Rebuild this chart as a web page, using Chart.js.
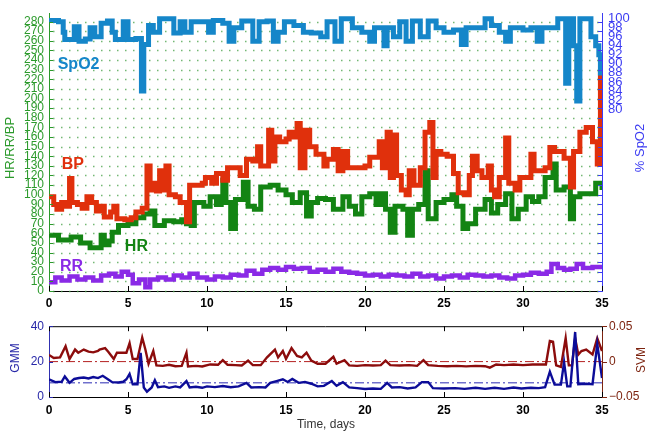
<!DOCTYPE html>
<html>
<head>
<meta charset="utf-8">
<script src="https://cdn.jsdelivr.net/npm/chart.js@4/dist/chart.umd.min.js"></script>
<style>
  body { margin: 0; background: #fff; }
  .panel { position: absolute; left: 0; width: 657px; }
</style>
</head>
<body>
<div class="panel" style="top:0;height:312px"><canvas id="top" width="657" height="312"></canvas></div>
<div class="panel" style="top:312px;height:123px"><canvas id="bottom" width="657" height="123"></canvas></div>
<script>
// values (days / value pairs)
const spo2Days = [0,0.6,0.9,1.0,1.6,1.9,2.3,2.6,2.9,3.3,3.7,4.0,4.2,4.7,5.0,5.5,5.85,6.0,6.3,6.6,7.0,7.6,7.9,8.3,8.6,9.0,9.8,10.1,10.4,11.0,11.4,11.7,12.2,12.9,13.3,13.8,14.2,14.5,14.9,15.5,16.1,16.6,17.2,17.6,18.1,18.5,19.2,19.8,20.3,20.6,21.2,21.4,21.8,22.2,22.6,23.0,23.5,24.0,24.5,25.0,25.6,26.1,26.4,27.0,27.6,28.0,28.5,28.9,29.2,30.0,30.5,30.9,31.2,31.8,32.2,32.7,32.9,33.2,33.4,33.6,34.1,34.3,34.6,34.8,34.9,35];
const spo2Vals = [99.6,99.3,97,95.4,98.2,95,95.5,98,96,99,99.5,97,95.4,99.3,95.4,95.6,84,94.3,98.5,97,100,100,96.8,99.3,97,99.3,99.3,97,99.6,99,95,98,99.5,95,99.3,99.5,95,97,99.3,98.5,97,96.8,96,99.3,95,100,98,97,95,98,94,98,96,99.3,95,99.5,96,99.5,98,97,97.5,94.3,98,98,100,98.5,97,95,98,97.5,98,95,98,98,100,85.7,100,94,81.8,100,100,96,94,92,88,88];

const bpDays = [0,0.3,0.5,0.8,1.1,1.3,1.45,1.8,2.1,2.4,2.7,3.0,3.3,3.5,3.9,4.1,4.3,4.8,5.2,5.5,5.9,6.2,6.4,6.6,6.8,7.0,7.2,7.4,7.6,8.0,8.3,8.7,8.9,9.3,9.7,9.9,10.3,10.6,11.0,11.3,11.7,12.1,12.5,12.9,13.2,13.4,13.9,14.1,14.3,14.6,15.0,15.2,15.5,15.7,15.9,16.2,16.5,16.9,17.4,17.6,18.0,18.3,18.6,18.9,19.4,20.0,20.3,20.9,21.1,21.4,21.6,21.8,22.0,22.3,22.6,22.8,23.1,23.5,23.8,24.1,24.3,24.5,24.8,25.2,25.6,25.9,26.3,26.6,26.8,27.1,27.4,27.8,28.0,28.2,28.5,28.9,29.1,29.5,29.8,30.5,30.7,31.4,31.7,32.0,32.6,33.0,33.2,33.6,34.0,34.4,34.7,34.9,35];
const bpVals = [98,90,85,92,88,117,92,90,86,98,92,83,88,77,82,88,75,74,76,82,86,130,105,112,104,125,105,130,100,98,92,72,110,110,112,118,112,122,115,128,128,120,137,135,150,130,167,135,160,155,158,165,160,174,128,167,150,142,130,137,147,125,145,128,128,130,139,155,128,165,118,162,120,105,100,125,110,128,165,175,118,145,142,140,122,102,100,120,140,125,118,130,105,98,118,159,112,105,118,142,125,128,149,145,138,108,145,165,170,155,132,226,226];

const hrDays = [0,0.6,1.4,2.0,2.6,3.3,3.5,3.8,4.0,4.4,5.0,5.5,6.0,6.4,6.7,7.3,7.9,8.4,8.7,9.0,9.2,9.8,10.2,10.6,10.9,11.0,11.2,11.5,11.8,12.3,12.6,13.0,13.4,14.0,14.5,15.0,15.4,15.9,16.3,16.6,17.0,17.5,18.0,18.6,19.0,19.4,19.8,20.3,20.7,21.0,21.3,21.6,21.9,22.4,22.7,23.0,23.4,23.8,24.0,24.5,25.0,25.5,25.8,26.2,26.5,27.0,27.6,28.0,28.4,28.9,29.3,29.7,30.2,30.6,31.0,31.4,31.9,32.1,32.6,33.0,33.2,33.6,34.2,34.6,35];
const hrVals = [58,53,56,50,45,58,48,52,61,68,70,76,80,83,68,73,72,74,70,68,92,88,98,90,98,115,92,65,95,113,88,85,108,110,105,100,92,102,78,92,96,95,85,98,88,80,98,101,90,101,85,61,88,85,58,85,90,125,75,92,95,100,88,65,70,85,95,81,90,101,75,85,98,93,98,118,132,105,108,75,98,101,101,112,105];

const rrDays = [0,0.4,0.8,1.3,1.8,2.3,2.8,3.3,3.8,4.2,4.6,5.0,5.3,5.7,6.1,6.4,6.9,7.4,7.9,8.4,8.9,9.4,10.0,10.5,11.0,11.5,12.0,12.5,13.0,13.5,14.0,14.5,15.0,15.5,16.0,16.5,17.0,17.5,18.0,18.5,19.0,19.5,20.0,20.5,21.0,21.5,22.0,22.5,23.0,23.5,24.0,24.5,25.0,25.5,26.0,26.5,27.0,27.5,28.0,28.5,29.0,29.5,30.0,30.5,31.0,31.5,31.8,32.2,32.6,33.0,33.4,33.8,34.4,35];
const rrVals = [9,14,11,15,12,14,11,16,18,15,20,17,8,12,4,12,14,12,16,14,18,14,12,15,14,17,16,21,18,22,24,22,25,23,24,20,22,20,23,20,19,18,16,17,15,17,16,15,18,15,16,13,15,16,14,17,16,15,16,14,13,16,17,19,18,20,28,24,22,23,28,24,25,23];

const gmmDays = [0,0.4,0.8,1.0,1.3,1.6,1.9,2.2,2.5,2.8,3.1,3.4,3.75,4.0,4.4,4.7,4.9,5.1,5.3,5.6,5.8,6.0,6.2,6.5,6.7,6.9,7.3,7.6,8.0,8.3,8.7,8.9,9.3,9.7,10.0,10.5,11.0,11.5,12.0,12.5,12.8,13.3,13.7,14.0,14.4,14.8,15.1,15.4,15.8,16.2,16.6,17.0,17.4,17.9,18.2,18.6,19.0,19.5,20.0,20.5,21.0,21.4,21.7,22.2,22.7,23.2,23.6,24.0,24.3,25.0,25.7,26.3,27.0,27.6,28.2,28.8,29.4,29.9,30.5,31.0,31.4,31.7,32.0,32.4,32.6,32.8,33.0,33.3,33.5,34.0,34.4,34.7,35];
const gmmVals = [9.9,8.4,8.6,11.6,8,10.2,10.7,11,10.5,11.3,10.7,12,9.9,8.4,8.2,8.6,10,13,7.2,7.2,25,5.4,3,5.4,9.5,5.5,6,5.2,6,5.4,9,5.4,5.8,5.2,6,5.6,6.2,5.5,6,8,5.4,5.6,5.4,8,9,10,8.5,10.2,8,8.5,7.5,6,6.3,9,6.3,8.4,5.4,5,4.5,4.8,4.6,8,5.4,5.6,4.8,5.4,8.4,8.4,5,4.8,5,4.6,5.2,4.6,5.2,4.6,5.4,4.8,5.2,5,5.6,14.3,7,7,19.7,6,6,36.7,7.2,7.5,7.2,30,10.7];

const svmDays = [0,0.3,0.7,1.05,1.3,1.65,1.85,2.2,2.5,2.8,3.1,3.2,3.55,3.75,4.1,4.3,4.9,5.1,5.3,5.6,5.9,6.1,6.3,6.6,6.8,7.2,7.6,8.0,8.4,8.7,8.8,9.3,9.7,10.2,10.7,11.0,11.3,11.8,12.2,12.6,12.9,13.4,13.8,14.3,14.5,14.8,15.0,15.35,15.7,16.0,16.3,16.6,17.0,17.5,18.0,18.2,18.7,19.0,19.5,20.0,20.5,21.0,21.3,21.6,22.2,22.8,23.3,23.7,24.0,24.6,25.2,25.8,26.4,27.0,27.6,27.9,28.3,28.8,29.4,30.0,30.6,31.2,31.45,31.7,31.9,32.1,32.4,32.7,32.9,33.1,33.3,33.5,33.7,34.0,34.4,34.7,35];
const svmVals = [0.0095,0.005,0.006,0.0216,0.0036,0.017,0.0126,0.017,0.014,0.013,0.015,0.017,0.019,0.014,0.0036,0.0126,0.0126,0.026,0.0036,0.0036,0.034,0.017,-0.003,0.015,-0.0054,-0.006,-0.0045,-0.0065,-0.006,0.0126,-0.0068,-0.006,-0.0068,-0.004,-0.0045,0.002,-0.0045,-0.005,-0.0054,0.0014,-0.005,-0.005,0.006,0.017,0.006,0.015,0.004,0.019,0.008,0.006,0.0126,0.0014,-0.003,-0.003,0.0068,-0.003,0.002,-0.0054,-0.006,-0.005,-0.0055,-0.005,0.0014,-0.005,-0.0055,-0.005,-0.006,0.002,-0.005,-0.006,-0.0065,-0.006,-0.0068,-0.006,-0.0065,-0.0085,-0.004,-0.005,-0.004,-0.005,-0.004,-0.004,-0.004,0.029,0.028,-0.0054,-0.0075,0.033,-0.0054,-0.0054,0.033,0.010,0.015,0.017,0.010,0.033,0.015];

// thresholds (dash-dot lines in the lower panel)
const gmmRef = 8;
const svmRef = 0;

// tick labels
const dayTicks = [0, 5, 10, 15, 20, 25, 30, 35];
const leftTicks = [0,10,20,30,40,50,60,70,80,90,100,110,120,130,140,150,160,170,180,190,200,210,220,230,240,250,260,270,280];
const spo2Ticks = [80, 82, 84, 86, 88, 90, 92, 94, 96, 98, 100];
const gmmTicks = [0, 20, 40];
const svmTicks = [-0.05, 0, 0.05];

const C = {
  spo2: '#1586c9', bp: '#e0300c', hr: '#138413', rr: '#8a2ae6',
  green: '#2c9a2c', blue: '#3c3cf2', grid: 'rgba(70,160,70,0.75)',
  gmm: '#0c0c98', svm: '#8c0c0c', gmmText: '#2828a8', svmText: '#7d2410'
};

Chart.defaults.font.family = "'Liberation Sans', Arial, Helvetica, sans-serif";
Chart.defaults.font.size = 12;

function pts(xs, ys) {
  return xs.map((x, i) => ({ x: x, y: ys[i] }));
}

// grid dots, inward ticks, labels and rotated titles (config kept in a closure)
function makeDeco(cfg) {
  return {
    id: 'deco',
    beforeDatasetsDraw(chart) {
      if (!cfg.grid) return;
      const ctx = chart.ctx, a = chart.chartArea;
      const s = chart.scales[cfg.grid.scale];
      ctx.save();
      ctx.strokeStyle = cfg.grid.color;
      ctx.lineWidth = 1.5;
      ctx.setLineDash(cfg.grid.dash);
      cfg.grid.values.forEach(v => {
        const p = Math.round(s.getPixelForValue(v)) + 0.5;
        ctx.beginPath();
        ctx.moveTo(a.left + 4, p);
        ctx.lineTo(a.right, p);
        ctx.stroke();
      });
      ctx.restore();
    },
    afterDraw(chart) {
      const ctx = chart.ctx, a = chart.chartArea;
      ctx.save();
      (cfg.frame || []).forEach(f => {
        ctx.strokeStyle = f.color;
        ctx.lineWidth = 1;
        const y = f.edge === 'top' ? a.top + 0.5 : a.bottom - 0.5;
        ctx.beginPath();
        ctx.moveTo(a.left, y);
        ctx.lineTo(a.right, y);
        ctx.stroke();
      });
      (cfg.marks || []).forEach(m => {
        const s = chart.scales[m.scale];
        ctx.strokeStyle = m.color;
        ctx.lineWidth = 1;
        ctx.beginPath();
        m.values.forEach(v => {
          const p = Math.round(s.getPixelForValue(v)) + 0.5;
          if (m.edge === 'left') { ctx.moveTo(a.left, p); ctx.lineTo(a.left + m.len, p); }
          if (m.edge === 'right') { ctx.moveTo(a.right, p); ctx.lineTo(a.right - m.len, p); }
          if (m.edge === 'bottom') { ctx.moveTo(p, a.bottom); ctx.lineTo(p, a.bottom - m.len); }
          if (m.edge === 'top') { ctx.moveTo(p, a.top); ctx.lineTo(p, a.top + m.len); }
        });
        ctx.stroke();
      });
      (cfg.labels || []).forEach(l => {
        const x = chart.scales.x.getPixelForValue(l.x);
        const y = chart.scales[l.scale].getPixelForValue(l.y);
        ctx.fillStyle = l.color;
        ctx.font = l.font;
        ctx.textAlign = 'left';
        ctx.textBaseline = 'middle';
        ctx.fillText(l.text, x, y);
      });
      (cfg.titles || []).forEach(t => {
        ctx.save();
        ctx.translate(t.x, t.y);
        ctx.rotate(t.rot || 0);
        ctx.fillStyle = t.color;
        ctx.font = t.font;
        ctx.textAlign = 'center';
        ctx.textBaseline = 'middle';
        ctx.fillText(t.text, 0, 0);
        ctx.restore();
      });
      ctx.restore();
    }
  };
}

function line(label, xs, ys, color, axis, width, order, stepped) {
  return {
    label: label, data: pts(xs, ys), yAxisID: axis,
    borderColor: color, borderWidth: width, stepped: stepped,
    pointRadius: 0, fill: false, tension: 0, order: order,
    borderJoinStyle: 'miter', borderCapStyle: 'butt'
  };
}

const setTicks = list => scale => { scale.ticks = list.map(v => ({ value: v })); };
const bold = "bold 16px 'Liberation Sans', Arial, sans-serif";
const plain13 = "13px 'Liberation Sans', Arial, sans-serif";
const plain12 = "12px 'Liberation Sans', Arial, sans-serif";

// upper panel
new Chart(document.getElementById('top'), {
  type: 'line',
  data: {
    datasets: [
      line('SpO2', spo2Days, spo2Vals, C.spo2, 'y2', 5, 0, true),
      line('RR', rrDays, rrVals, C.rr, 'y', 4.5, 1, true),
      line('BP', bpDays, bpVals, C.bp, 'y', 5, 2, true),
      line('HR', hrDays, hrVals, C.hr, 'y', 5, 3, true)
    ]
  },
  options: {
    responsive: false, animation: false, events: [],
    layout: { padding: { top: 5, left: 0, right: 0, bottom: 0 } },
    plugins: { legend: { display: false }, tooltip: { enabled: false } },
    scales: {
      x: {
        type: 'linear', min: 0, max: 35,
        afterBuildTicks: setTicks(dayTicks),
        afterFit: s => { s.height = 21; },
        ticks: { color: '#000', padding: 5, maxRotation: 0, autoSkip: false, font: { size: 12, weight: 'bold' } },
        grid: { display: false, drawTicks: false },
        border: { color: '#000', width: 1 }
      },
      y: {
        type: 'linear', position: 'left', min: 0, max: 288,
        afterBuildTicks: setTicks(leftTicks),
        afterFit: s => { s.width = 49; },
        ticks: { color: C.green, padding: 5, autoSkip: false, font: { size: 12 } },
        grid: { display: false, drawTicks: false },
        border: { color: C.green, width: 1 }
      },
      y2: {
        type: 'linear', position: 'right', min: 39.77, max: 101.07,
        afterBuildTicks: setTicks(spo2Ticks),
        afterFit: s => { s.width = 55; },
        ticks: { color: C.blue, padding: 6, autoSkip: false, font: { size: 13 } },
        grid: { display: false, drawTicks: false },
        border: { color: C.blue, width: 1 }
      }
    }
  },
  plugins: [makeDeco({
    grid: { scale: 'y', values: leftTicks, color: C.grid, dash: [1.5, 6.5] },
    marks: [
      { scale: 'y', values: leftTicks, edge: 'left', len: 4, color: C.green },
      { scale: 'y', values: leftTicks, edge: 'right', len: 4, color: C.blue },
      { scale: 'x', values: dayTicks, edge: 'bottom', len: 5, color: '#000' }
    ],
    labels: [
      { text: 'SpO2', x: 0.55, y: 235, scale: 'y', color: C.spo2, font: bold },
      { text: 'BP', x: 0.8, y: 131, scale: 'y', color: C.bp, font: bold },
      { text: 'HR', x: 4.8, y: 46, scale: 'y', color: C.hr, font: bold },
      { text: 'RR', x: 0.7, y: 25, scale: 'y', color: C.rr, font: bold }
    ],
    titles: [
      { text: 'HR/RR/BP', x: 10, y: 148, rot: -Math.PI / 2, color: C.green, font: plain13 },
      { text: '% SpO2', x: 640, y: 148, rot: -Math.PI / 2, color: C.blue, font: plain13 }
    ]
  })]
});

// lower panel
new Chart(document.getElementById('bottom'), {
  type: 'line',
  data: {
    datasets: [
      line('GMM', gmmDays, gmmVals, C.gmm, 'y', 2.4, 0, false),
      line('SVM', svmDays, svmVals, C.svm, 'y2', 2.4, 1, false),
      Object.assign(line('GMM ref', [0, 35], [gmmRef, gmmRef], '#2a2ab4', 'y', 1, 2, false), { borderDash: [9, 3, 2, 3] }),
      Object.assign(line('SVM ref', [0, 35], [svmRef, svmRef], '#b42020', 'y2', 1, 3, false), { borderDash: [9, 3, 2, 3] })
    ]
  },
  options: {
    responsive: false, animation: false, events: [],
    layout: { padding: { top: 10, left: 0, right: 0, bottom: 0 } },
    plugins: { legend: { display: false }, tooltip: { enabled: false } },
    scales: {
      x: {
        type: 'linear', min: 0, max: 35,
        afterBuildTicks: setTicks(dayTicks),
        afterFit: s => { s.height = 38; },
        ticks: { color: '#000', padding: 6, maxRotation: 0, autoSkip: false, font: { size: 12, weight: 'bold' } },
        grid: { display: false, drawTicks: false },
        border: { color: '#000', width: 1 }
      },
      y: {
        type: 'linear', position: 'left', min: 0, max: 40,
        afterBuildTicks: setTicks(gmmTicks),
        afterFit: s => { s.width = 49; },
        ticks: { color: C.gmmText, padding: 5, autoSkip: false, font: { size: 12 } },
        grid: { display: false, drawTicks: false },
        border: { color: '#3030b0', width: 1 }
      },
      y2: {
        type: 'linear', position: 'right', min: -0.05, max: 0.05,
        afterBuildTicks: setTicks(svmTicks),
        afterFit: s => { s.width = 55; },
        ticks: {
          color: C.svmText, padding: 7, autoSkip: false, font: { size: 12 },
          callback: v => v === 0 ? '0' : (v < 0 ? '\u22120.05' : '0.05')
        },
        grid: { display: false, drawTicks: false },
        border: { color: C.svmText, width: 1 }
      }
    }
  },
  plugins: [makeDeco({
    frame: [{ edge: 'top', color: '#000' }],
    marks: [
      { scale: 'x', values: dayTicks, edge: 'bottom', len: 5, color: '#000' },
      { scale: 'x', values: dayTicks, edge: 'top', len: 5, color: '#000' },
      { scale: 'y', values: gmmTicks, edge: 'left', len: 4, color: C.gmmText },
      { scale: 'y2', values: svmTicks, edge: 'right', len: -5, color: C.svmText }
    ],
    titles: [
      { text: 'GMM', x: 16, y: 46, rot: -Math.PI / 2, color: C.gmmText, font: plain12 },
      { text: 'SVM', x: 642, y: 48, rot: -Math.PI / 2, color: C.svmText, font: plain12 },
      { text: 'Time, days', x: 326, y: 113, rot: 0, color: '#333', font: plain12 }
    ]
  })]
});
</script>
</body>
</html>
